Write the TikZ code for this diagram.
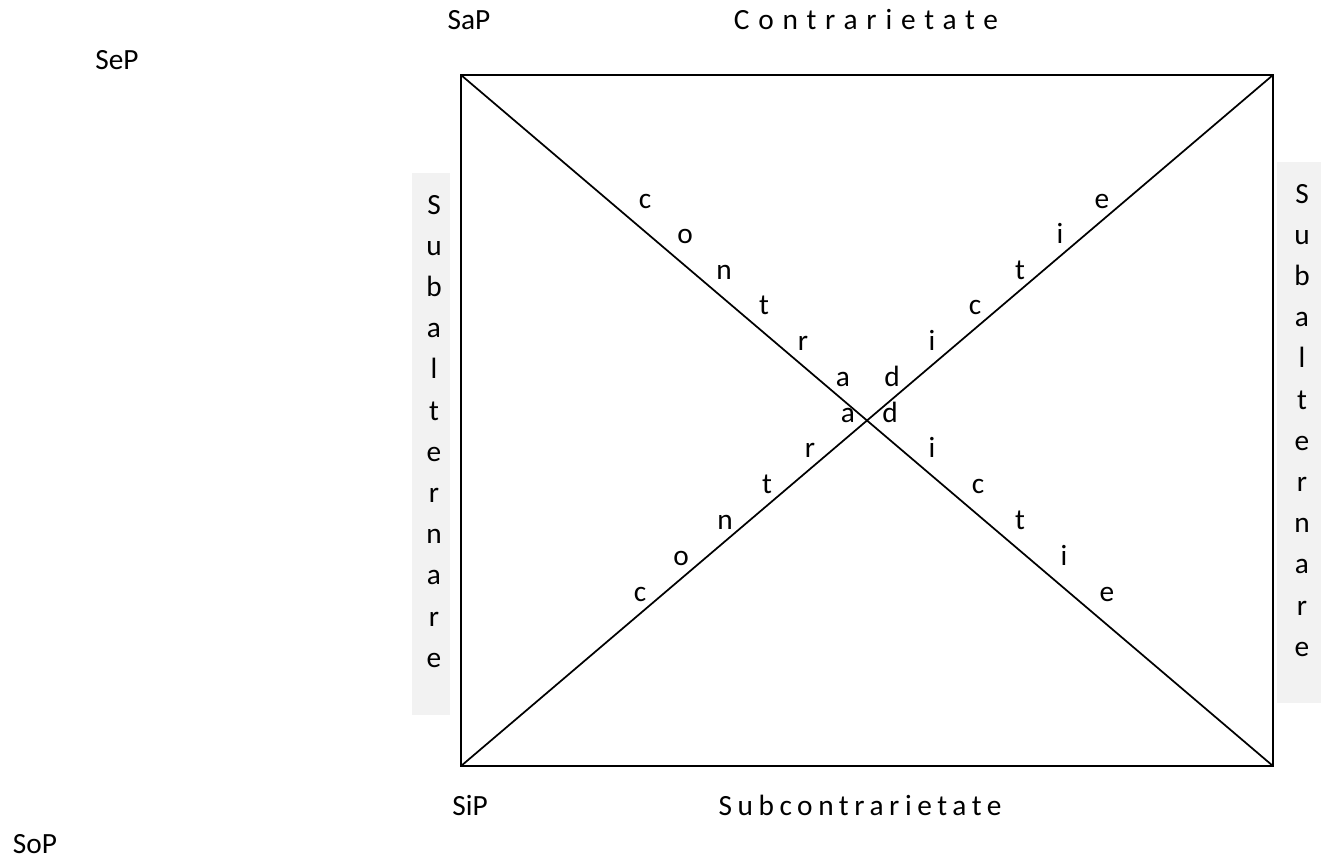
\documentclass[tikz,border=0pt]{standalone}
\usepackage{fontspec}
\setmainfont{Carlito}
\usepackage{xcolor}
\usetikzlibrary{positioning}
\definecolor{barfill}{RGB}{242,242,242}

\begin{document}
\begin{tikzpicture}[x=0.75pt, y=-0.75pt,
  font=\fontsize{22}{26}\selectfont,
  lbl/.style={anchor=base, inner sep=0pt},
  spaced/.style={lbl, font=\fontsize{22}{26}\selectfont\addfontfeatures{LetterSpace=#1}},
  letter/.style={anchor=base, inner sep=0pt},
  edge/.style={draw, line width=1.5pt},
  diag/.style={draw, line width=1.3pt},
  bar/.style={fill=barfill}]

  \useasboundingbox (0,0) rectangle (1321,858);

  % Grey bars behind the vertical words
  \fill[bar] (412,173) rectangle (450,715);
  \fill[bar] (1277,162) rectangle (1321,703);

  % Corners of the square
  \coordinate (A) at (461,75);
  \coordinate (E) at (1273,75);
  \coordinate (I) at (461,766);
  \coordinate (O) at (1273,766);

  \draw[edge] (A) rectangle (O);
  \draw[diag] (A) -- (O);
  \draw[diag] (I) -- (E);

  % Corner labels
  \node[lbl] (sap) at (469,29) {SaP};
  \node[lbl] (sep) at (117,69) {SeP};
  \node[lbl] (sip) at (470,815) {SiP};
  \node[lbl] (sop) at (35,853) {SoP};

  % Side names
  \node[spaced=30] (contr) at (866,29) {Contrarietate};
  \node[spaced=19] (subcontr) at (860,815) {Subcontrarietate};

  % Vertical words in the bars
  \foreach \ch [count=\i from 0] in {S,u,b,a,l,t,e,r,n,a,r,e}{
    \node[letter] (ls\i) at (434,{214+41.2*\i}) {\ch};
    \node[letter] (rs\i) at (1302,{203+41.2*\i}) {\ch};
  }

  % Letters along the diagonals
  \foreach \ch/\x [count=\k from 0] in {c/645,o/685,n/724,t/764,r/803,a/843}
    \node[letter] (dl\k) at (\x,{208+35.6*\k}) {\ch};
  \foreach \ch/\x [count=\k from 0] in {e/1102,i/1060,t/1020,c/975,i/932,d/892}
    \node[letter] (dr\k) at (\x,{208+35.6*\k}) {\ch};
  \foreach \ch/\x [count=\k from 0] in {a/848,r/810,t/767,n/725,o/681,c/640}
    \node[letter] (ul\k) at (\x,{422+35.8*\k}) {\ch};
  \foreach \ch/\x [count=\k from 0] in {d/890,i/932,c/978,t/1020,i/1064,e/1107}
    \node[letter] (ur\k) at (\x,{422+35.8*\k}) {\ch};
\end{tikzpicture}
\end{document}
